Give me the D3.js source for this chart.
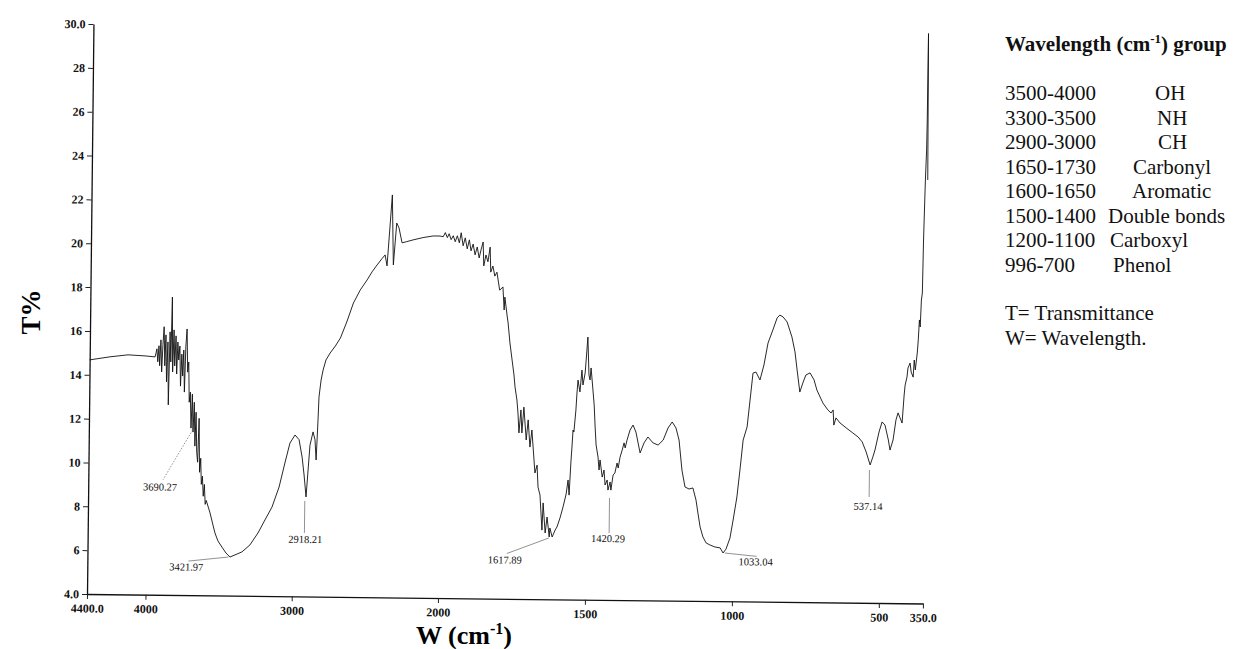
<!DOCTYPE html>
<html>
  <head>
    <script src="https://cdn.jsdelivr.net/npm/d3@7"></script>
    <style>
      body { margin: 0; background: #fff; }
      text { font-family: "Liberation Serif", "Times New Roman", serif; }
    </style>
  </head>

  <body>
    <svg width="1233" height="649"></svg>

    <script type="text/javascript">
      // spectrum (wavenumber cm-1, transmittance %)
      var wavenumber = [
        4400, 4261, 4138, 4022, 3953, 3948, 3941, 3934, 3927, 3921, 3914, 3907,
        3900, 3893, 3886, 3880, 3873, 3866, 3859, 3852, 3845, 3839, 3832, 3825,
        3818, 3811, 3804, 3798, 3791, 3784, 3777, 3770, 3763, 3757, 3750, 3743,
        3736, 3729, 3722, 3716, 3709, 3702, 3695, 3688, 3681, 3674, 3668, 3661,
        3654, 3647, 3640, 3633, 3627, 3620, 3613, 3606, 3599, 3592, 3565, 3551,
        3530, 3509, 3481, 3453, 3425, 3344, 3290, 3236, 3189, 3142, 3095, 3057,
        3024, 2990, 2962, 2940, 2925, 2910, 2898, 2887, 2867, 2853, 2844, 2834,
        2829, 2816, 2803, 2784, 2756, 2721, 2687, 2645, 2601, 2555, 2509, 2476,
        2442, 2409, 2388, 2374, 2343, 2331, 2311, 2295, 2273, 2245, 2198, 2130,
        2061, 2014, 1996, 1989, 1982, 1976, 1969, 1962, 1955, 1948, 1941, 1935,
        1928, 1921, 1914, 1907, 1901, 1894, 1887, 1880, 1873, 1867, 1860, 1857,
        1850, 1843, 1836, 1833, 1826, 1819, 1812, 1802, 1791, 1786, 1784, 1776,
        1772, 1765, 1757, 1750, 1746, 1739, 1735, 1731, 1725, 1721, 1715, 1706,
        1700, 1693, 1687, 1675, 1668, 1664, 1657, 1649, 1646, 1638, 1632, 1624,
        1622, 1614, 1604, 1598, 1588, 1578, 1568, 1562, 1558, 1553, 1550, 1547,
        1544, 1538, 1535, 1532, 1525, 1519, 1515, 1508, 1505, 1500, 1495, 1491,
        1488, 1485, 1476, 1472, 1468, 1461, 1457, 1454, 1446, 1440, 1436, 1429,
        1426, 1419, 1416, 1409, 1403, 1396, 1392, 1386, 1379, 1373, 1369, 1363,
        1353, 1343, 1333, 1318, 1305, 1292, 1274, 1257, 1240, 1224, 1210, 1197,
        1186, 1175, 1164, 1150, 1137, 1126, 1119, 1111, 1101, 1090, 1077, 1060,
        1042, 1032, 1022, 1009, 999, 987, 977, 968, 955, 946, 937, 927, 913, 900,
        887, 871, 857, 848, 837, 823, 806, 795, 787, 777, 766, 757, 743, 729,
        719, 698, 681, 670, 663, 660, 653, 639, 618, 595, 577, 563, 549, 535,
        526, 519, 506, 496, 486, 474, 468, 458, 449, 442, 435, 428, 422, 419,
        413, 410, 403, 399, 392, 389, 385, 379, 376, 373, 370, 367, 364, 362,
        358, 355, 354, 353, 350
      ];
      var transmittance = [
        14.68, 14.83, 14.93, 14.89, 14.85, 14.99, 15.22, 14.63, 15.36, 14.45,
        15.63, 14.17, 15.41, 16.23, 14.45, 15.86, 13.72, 15.54, 12.67, 16.0,
        14.63, 17.59, 14.17, 16.09, 14.45, 15.82, 14.08, 15.54, 14.72, 15.36,
        13.53, 14.99, 13.99, 15.18, 13.26, 15.36, 16.14, 14.17, 14.63, 12.8,
        13.26, 11.62, 13.17, 11.44, 12.8, 10.8, 12.35, 10.52, 10.07, 12.07,
        9.61, 10.25, 9.06, 9.43, 8.52, 9.06, 8.15, 8.33, 7.76, 7.39, 6.85,
        6.49, 6.21, 5.94, 5.76, 6.0, 6.32, 6.87, 7.47, 8.06, 8.98, 10.08,
        10.99, 11.36, 11.15, 10.36, 9.54, 8.54, 9.77, 10.9, 11.51, 11.15,
        10.23, 12.06, 13.11, 13.88, 14.34, 14.8, 15.12, 15.44, 15.81, 16.54,
        17.41, 18.01, 18.47, 18.84, 19.16, 19.45, 19.62, 19.12, 22.36, 19.17,
        21.08, 20.86, 20.18, 20.23, 20.32, 20.43, 20.51, 20.51, 20.48, 20.67,
        20.44, 20.62, 20.35, 20.53, 20.26, 20.53, 20.21, 20.67, 20.08, 20.44,
        19.94, 20.35, 19.85, 20.16, 19.67, 20.03, 19.53, 19.9, 20.26, 19.17,
        19.67, 19.36, 20.03, 18.89, 19.17, 18.71, 18.89, 18.07, 18.22, 17.17,
        17.76, 16.94, 16.58, 15.67, 14.89, 14.21, 13.66, 13.07, 12.48, 11.57,
        12.62, 11.57, 12.75, 11.25, 12.17, 10.93, 11.71, 9.75, 10.11, 9.11,
        8.75, 7.15, 8.39, 7.02, 7.75, 6.84, 7.25, 6.84, 7.16, 7.3, 7.71, 8.22,
        8.81, 9.45, 8.76, 10.27, 10.96, 11.73, 11.64, 12.64, 13.42, 14.01,
        13.47, 14.47, 13.79, 14.34, 14.93, 15.98, 14.25, 14.02, 14.57, 14.16,
        12.88, 11.88, 11.06, 10.51, 9.92, 10.38, 9.6, 9.92, 9.24, 9.47, 9.01,
        9.38, 9.01, 9.7, 9.79, 10.25, 10.02, 10.52, 10.84, 11.17, 10.94, 11.3,
        11.76, 11.99, 11.67, 10.72, 11.18, 11.45, 11.18, 11.09, 11.32, 11.87,
        12.15, 11.88, 11.33, 9.96, 9.19, 9.1, 9.15, 8.6, 8.01, 7.37, 6.92,
        6.65, 6.56, 6.47, 6.43, 6.2, 6.38, 6.89, 7.71, 8.76, 10.09, 11.36,
        11.96, 13.19, 14.42, 14.47, 14.11, 14.8, 15.8, 16.4, 16.95, 17.08,
        17.0, 16.77, 16.09, 15.41, 14.58, 13.58, 14.04, 14.36, 14.46, 14.14,
        13.68, 13.09, 12.78, 12.64, 12.78, 12.09, 12.42, 12.19, 11.97, 11.74,
        11.56, 11.34, 10.88, 10.29, 10.66, 10.98, 11.8, 12.26, 12.12, 11.44,
        10.98, 11.44, 12.35, 12.68, 12.45, 12.22, 13.5, 13.95, 14.32, 14.73,
        14.96, 14.55, 14.32, 15.1, 14.65, 15.42, 16.02, 16.93, 16.61, 17.84,
        18.16, 20.58, 23.32, 24.69, 26.06, 30.0, 23.32
      ];

      // marked peaks
      var peakWn = [3690.27, 3421.97, 2918.21, 1617.89, 1420.29, 1033.04, 537.14];
      var peakT = [11.63, 5.76, 8.54, 6.84, 9.01, 6.2, 10.29];

      // axis ticks
      var xTicks = [4400, 4000, 3000, 2000, 1500, 1000, 500, 350];
      var xTickLabels = ["4400.0", "4000", "3000", "2000", "1500", "1000", "500", "350.0"];
      var yTicks = [4, 6, 8, 10, 12, 14, 16, 18, 20, 22, 24, 26, 28, 30];
      var yTickLabels = ["4.0", "6", "8", "10", "12", "14", "16", "18", "20", "22", "24", "26", "28", "30.0"];

      // legend table
      var groupRanges = ["3500-4000", "3300-3500", "2900-3000", "1650-1730", "1600-1650", "1500-1400", "1200-1100", "996-700"];
      var groupNames = ["OH", "NH", "CH", "Carbonyl", "Aromatic", "Double bonds", "Carboxyl", "Phenol"];
      var notes = ["T= Transmittance", "W= Wavelength."];

      var svg = d3.select("svg");
      svg.append("rect").attr("width", 1233).attr("height", 649).attr("fill", "#fff");

      // scanned plot is a little tilted
      var plot = svg.append("g").attr("transform", "rotate(0.65, 87, 594)");

      // spectrometer chart changes scale at 2000 cm-1
      var x = d3.scaleLinear().domain([4400, 2000, 350]).range([87, 438, 923]);
      var y = d3.scaleLinear().domain([4, 30]).range([594, 24]);

      var xAxis = d3
        .axisBottom(x)
        .tickValues(xTicks)
        .tickFormat((d, i) => xTickLabels[i])
        .tickSize(5)
        .tickSizeOuter(0)
        .tickPadding(5);
      var yAxis = d3
        .axisLeft(y)
        .tickValues(yTicks)
        .tickFormat((d, i) => yTickLabels[i])
        .tickSize(5)
        .tickSizeOuter(0)
        .tickPadding(3);

      var gx = plot.append("g").attr("transform", "translate(0,594)").call(xAxis);
      var gy = plot.append("g").attr("transform", "translate(87,0)").call(yAxis);
      [gx, gy].forEach((g) => {
        g.select(".domain").attr("stroke", "#111").attr("stroke-width", 1.3);
        g.selectAll(".tick line").attr("stroke", "#222");
        g.selectAll(".tick text")
          .attr("fill", "#111")
          .style("font-family", '"Liberation Serif", serif')
          .style("font-size", "12px")
          .style("font-weight", "bold");
      });

      var spectrum = wavenumber.map((d, i) => [d, transmittance[i]]);
      var line = d3
        .line()
        .x((d) => x(d[0]))
        .y((d) => y(d[1]));

      plot
        .append("path")
        .attr("d", line(spectrum))
        .attr("fill", "none")
        .attr("stroke", "#111")
        .attr("stroke-width", 0.9)
        .attr("stroke-linejoin", "round");

      // label placement for each peak: leader start, leader end, text anchor (px offsets)
      var peakLayout = [
        { s: [0, 2], e: [-29, 52], t: [-32, 63], dash: "1.5,1.5" },
        { s: [-2, 0], e: [-42, 4.5], t: [-44, 14] },
        { s: [0, 4], e: [0, 36], t: [1, 46] },
        { s: [-2, 1], e: [-44, 17], t: [-46, 27] },
        { s: [0, 8], e: [0, 43], t: [-1, 52] },
        { s: [2, 0], e: [34, 3], t: [33, 12] },
        { s: [0, 5], e: [0, 32], t: [-1, 45] },
      ];

      var peaks = plot
        .selectAll(".peak")
        .data(peakWn)
        .enter()
        .append("g")
        .attr("class", "peak")
        .attr("transform", (d, i) => "translate(" + x(d) + "," + y(peakT[i]) + ")");

      peaks
        .append("line")
        .attr("x1", (d, i) => peakLayout[i].s[0])
        .attr("y1", (d, i) => peakLayout[i].s[1])
        .attr("x2", (d, i) => peakLayout[i].e[0])
        .attr("y2", (d, i) => peakLayout[i].e[1])
        .attr("stroke", "#777")
        .attr("stroke-width", 0.8)
        .attr("stroke-dasharray", (d, i) => peakLayout[i].dash || null);

      peaks
        .append("text")
        .attr("x", (d, i) => peakLayout[i].t[0])
        .attr("y", (d, i) => peakLayout[i].t[1])
        .attr("text-anchor", "middle")
        .attr("fill", "#111")
        .style("font-size", "10.5px")
        .text((d) => d.toFixed(2));

      // axis titles
      svg
        .append("text")
        .attr("transform", "translate(40,312) rotate(-90)")
        .attr("text-anchor", "middle")
        .style("font-size", "27px")
        .style("font-weight", "bold")
        .text("T%");

      var xt = svg
        .append("text")
        .attr("x", 464)
        .attr("y", 644)
        .attr("text-anchor", "middle")
        .style("font-size", "26px")
        .style("font-weight", "bold");
      xt.append("tspan").text("W (cm");
      xt.append("tspan").attr("dy", -10).style("font-size", "16px").text("-1");
      xt.append("tspan").attr("dy", 10).text(")");

      // legend
      var lg = svg.append("g").style("font-size", "21px").attr("fill", "#111");
      var head = lg.append("text").attr("x", 1005).attr("y", 51).style("font-weight", "bold");
      head.append("tspan").text("Wavelength (cm");
      head.append("tspan").attr("dy", -8).style("font-size", "13px").text("-1");
      head.append("tspan").attr("dy", 8).text(") group");

      var nameX = [1155, 1157, 1158, 1133, 1132, 1108, 1110, 1113];
      lg.selectAll(".range")
        .data(groupRanges)
        .enter()
        .append("text")
        .attr("x", 1005)
        .attr("y", (d, i) => 100 + i * 24.5)
        .text((d) => d);
      lg.selectAll(".gname")
        .data(groupNames)
        .enter()
        .append("text")
        .attr("x", (d, i) => nameX[i])
        .attr("y", (d, i) => 100 + i * 24.5)
        .text((d) => d);
      lg.selectAll(".note")
        .data(notes)
        .enter()
        .append("text")
        .attr("x", 1005)
        .attr("y", (d, i) => 320 + i * 24.5)
        .text((d) => d);
    </script>
  </body>
</html>
